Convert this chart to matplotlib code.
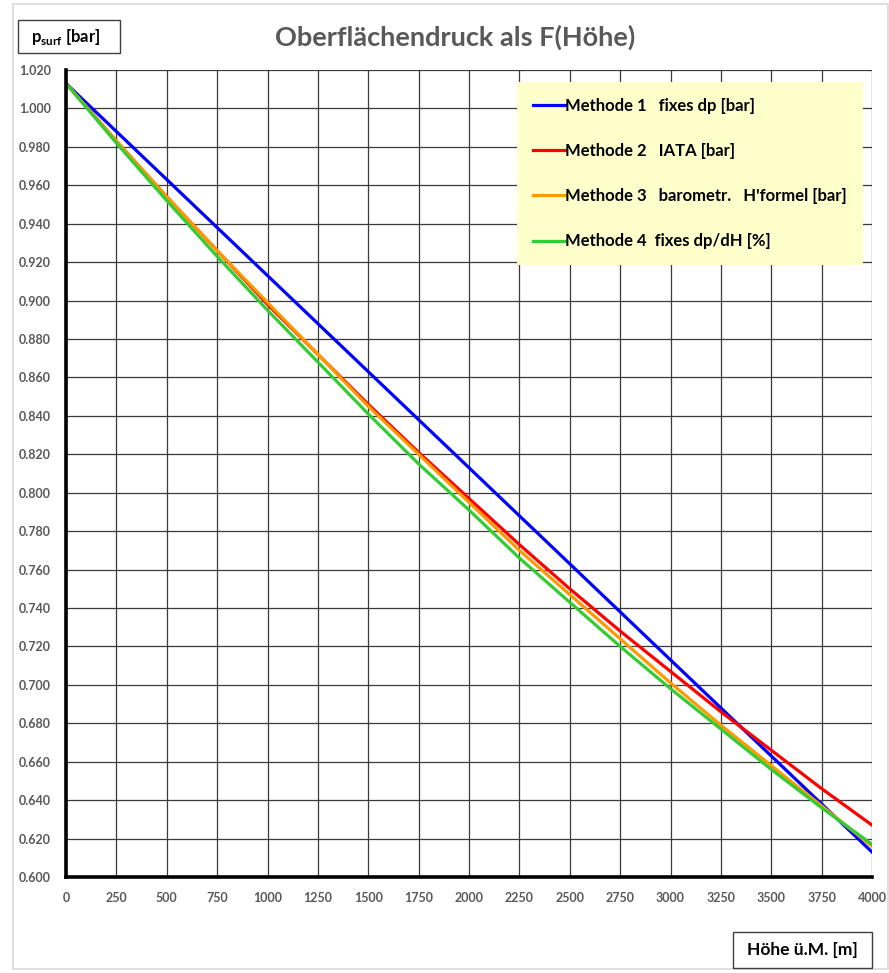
import matplotlib
matplotlib.use("Agg")
import matplotlib.pyplot as plt
from matplotlib.patches import Rectangle
import numpy as np

plt.rcParams["font.family"] = ["Lato", "DejaVu Sans"]
plt.rcParams["mathtext.fontset"] = "custom"
plt.rcParams["mathtext.bf"] = "Lato:bold"
plt.rcParams["mathtext.rm"] = "Lato"

# Höhe ü.M. [m], read every 250 m
hoehe = [0, 250, 500, 750, 1000, 1250, 1500, 1750, 2000,
         2250, 2500, 2750, 3000, 3250, 3500, 3750, 4000]

# Oberflächendruck [bar] per method
m1_fixes_dp = [1.013, 0.988, 0.963, 0.938, 0.913, 0.888, 0.863, 0.838, 0.813,
               0.788, 0.763, 0.738, 0.713, 0.688, 0.663, 0.638, 0.613]
m2_iata = [1.013, 0.983, 0.954, 0.926, 0.898, 0.872, 0.846, 0.821, 0.797,
           0.773, 0.750, 0.728, 0.707, 0.686, 0.666, 0.646, 0.627]
m3_barom = [1.013, 0.983, 0.954, 0.926, 0.899, 0.872, 0.845, 0.820, 0.795,
            0.770, 0.747, 0.724, 0.701, 0.679, 0.658, 0.637, 0.616]
m4_dpdh = [1.013, 0.982, 0.952, 0.923, 0.895, 0.868, 0.841, 0.815, 0.791,
           0.766, 0.743, 0.720, 0.698, 0.677, 0.656, 0.636, 0.617]

labels = ["Methode 1   fixes dp [bar]",
          "Methode 2   IATA [bar]",
          "Methode 3   barometr.   H'formel [bar]",
          "Methode 4  fixes dp/dH [%]"]
colors = ["#0000FF", "#FF0000", "#FF9900", "#33CC33"]

W, H = 889, 973
fig = plt.figure(figsize=(W / 100, H / 100), dpi=100)


def fx(px):
    return px / W


def fy(py):
    return 1 - py / H


# outer chart border
fig.patches.append(Rectangle((fx(13), fy(969)), fx(875), 965 / H,
                             transform=fig.transFigure, fill=False,
                             ec="#D9D9D9", lw=1.2))

ax = fig.add_axes([fx(66), fy(877), fx(872 - 66), (877 - 70) / H])

for y, c, lab in zip([m1_fixes_dp, m2_iata, m3_barom, m4_dpdh], colors, labels):
    ax.plot(hoehe, y, color=c, lw=2.3, label=lab, zorder=3)

ax.set_xlim(0, 4000)
ax.set_ylim(0.600, 1.020)
ax.set_xticks(np.arange(0, 4001, 250))
ax.set_yticks(np.arange(0.600, 1.0201, 0.020))
ax.yaxis.set_major_formatter(plt.FuncFormatter(lambda v, p: f"{v:.3f}"))
ax.tick_params(length=0, labelsize=9, labelcolor="#595959", pad=11)
for t in ax.get_xticklabels() + ax.get_yticklabels():
    t.set_fontweight("bold")
ax.grid(True, color="#3a3a3a", lw=0.9)
ax.set_axisbelow(True)
for s in ["top", "right"]:
    ax.spines[s].set_visible(False)
for s in ["left", "bottom"]:
    ax.spines[s].set_linewidth(2.6)
    ax.spines[s].set_color("black")
    ax.spines[s].set_zorder(4)

leg = ax.legend(loc="upper left", bbox_to_anchor=(fx(517), fy(82)),
                bbox_transform=fig.transFigure, frameon=True, fancybox=False,
                facecolor="#FFFFCC", edgecolor="none", framealpha=1,
                prop={"weight": "bold", "size": 12}, handlelength=1.9,
                handletextpad=0.05, labelspacing=1.75, borderpad=0.95,
                borderaxespad=0)
for line in leg.get_lines():
    line.set_linewidth(2.3)

fig.text(fx(455), fy(37), "Oberflächendruck als F(Höhe)", ha="center",
         va="center", fontsize=19.5, fontweight="bold", color="#595959")

# y label box
fig.patches.append(Rectangle((fx(18), fy(53)), fx(102), 33 / H,
                             transform=fig.transFigure, fill=False,
                             ec="#404040", lw=1))
fig.text(fx(66), fy(37), r"$\mathbf{p}_{\mathbf{surf}}$ [bar]", ha="center",
         va="center", fontsize=12, fontweight="bold", color="black")

# x label box
fig.patches.append(Rectangle((fx(733), fy(968)), fx(139), 36 / H,
                             transform=fig.transFigure, fill=False,
                             ec="#404040", lw=1))
fig.text(fx(802), fy(950), "Höhe ü.M. [m]", ha="center", va="center",
         fontsize=12.5, fontweight="bold", color="black")

fig.savefig("out.png", dpi=100)
